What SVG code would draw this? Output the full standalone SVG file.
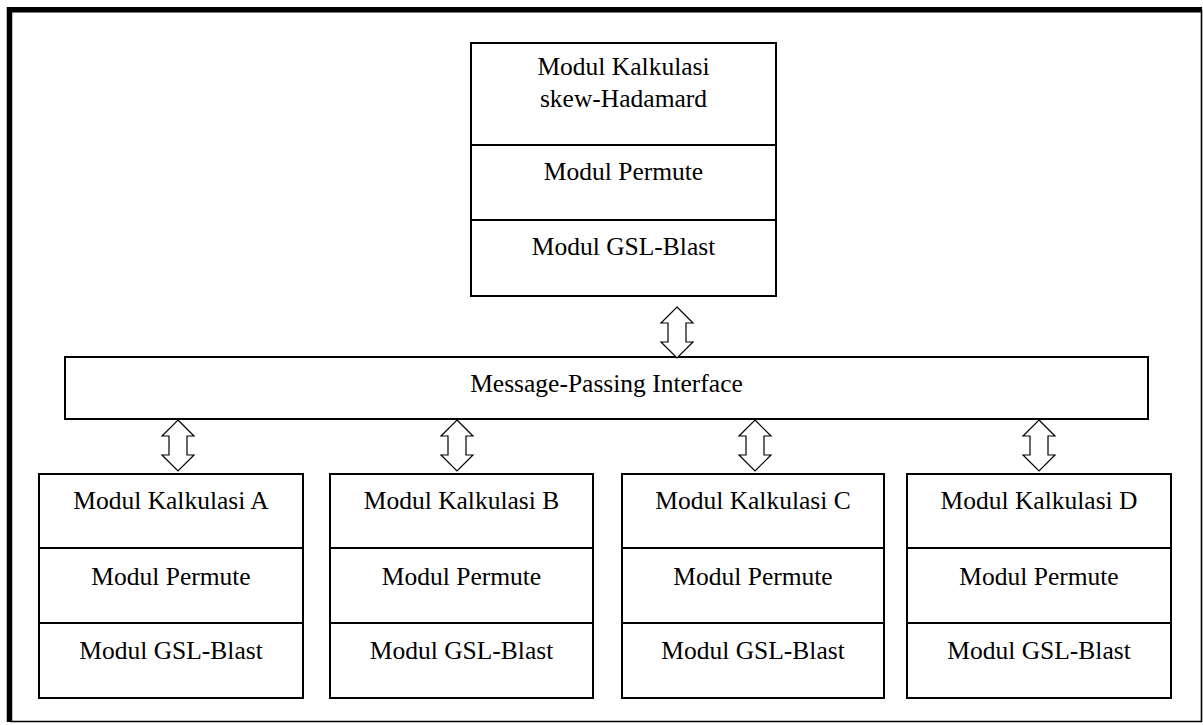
<svg xmlns="http://www.w3.org/2000/svg" width="1203" height="725" viewBox="0 0 1203 725">
  <style>
    .box { fill: #fff; stroke: #000; stroke-width: 2; }
    .div { stroke: #000; stroke-width: 2; fill: none; }
    .lbl { font-family: "Liberation Serif", "Times New Roman", serif; font-size: 25.5px; fill: #000; text-anchor: middle; }
    .arrow { fill: #fff; stroke: #000; stroke-width: 1.2; stroke-linejoin: miter; }
  </style>
  <defs>
    <!-- hollow double-headed arrow, 32 wide, 51 tall, tip at origin -->
    <path id="dblArrow" d="M0,0 L16,16 L9,16 L9,35 L16,35 L0,51 L-16,35 L-9,35 L-9,16 L-16,16 Z"/>
  </defs>

  <!-- page frame: heavy top/left edges, thin right/bottom edges -->
  <g id="frame">
    <rect x="0" y="0" width="1203" height="725" fill="#fff"/>
    <path d="M10,10 H1201.5 V721.5 H10" fill="none" stroke="#000" stroke-width="1.6"/>
    <path d="M9.5,722 V9.8 H1202" fill="none" stroke="#000" stroke-width="5.5"/>
  </g>

  <!-- master node -->
  <g id="master">
    <rect class="box" x="471" y="43" width="305" height="253"/>
    <line class="div" x1="471" y1="145" x2="776" y2="145"/>
    <line class="div" x1="471" y1="220" x2="776" y2="220" stroke-width="3"/>
    <text class="lbl" x="623.5" y="75">Modul Kalkulasi</text>
    <text class="lbl" x="623.5" y="107">skew-Hadamard</text>
    <text class="lbl" x="623.5" y="180">Modul Permute</text>
    <text class="lbl" x="623.5" y="255">Modul GSL-Blast</text>
  </g>

  <!-- message-passing layer -->
  <g id="mpi">
    <rect class="box" x="65" y="357" width="1083" height="62"/>
    <text class="lbl" x="606.5" y="392">Message-Passing Interface</text>
  </g>

  <!-- worker nodes -->
  <g id="workerA">
    <rect class="box" x="39" y="474" width="264" height="224"/>
    <line class="div" x1="39" y1="548" x2="303" y2="548"/>
    <line class="div" x1="39" y1="623" x2="303" y2="623"/>
    <text class="lbl" x="171" y="509">Modul Kalkulasi A</text>
    <text class="lbl" x="171" y="585">Modul Permute</text>
    <text class="lbl" x="171" y="659">Modul GSL-Blast</text>
  </g>
  <g id="workerB">
    <rect class="box" x="330" y="474" width="263" height="224"/>
    <line class="div" x1="330" y1="548" x2="593" y2="548"/>
    <line class="div" x1="330" y1="623" x2="593" y2="623"/>
    <text class="lbl" x="461.5" y="509">Modul Kalkulasi B</text>
    <text class="lbl" x="461.5" y="585">Modul Permute</text>
    <text class="lbl" x="461.5" y="659">Modul GSL-Blast</text>
  </g>
  <g id="workerC">
    <rect class="box" x="622" y="474" width="262" height="224"/>
    <line class="div" x1="622" y1="548" x2="884" y2="548"/>
    <line class="div" x1="622" y1="623" x2="884" y2="623"/>
    <text class="lbl" x="753" y="509">Modul Kalkulasi C</text>
    <text class="lbl" x="753" y="585">Modul Permute</text>
    <text class="lbl" x="753" y="659">Modul GSL-Blast</text>
  </g>
  <g id="workerD">
    <rect class="box" x="907" y="474" width="264" height="224"/>
    <line class="div" x1="907" y1="548" x2="1171" y2="548"/>
    <line class="div" x1="907" y1="623" x2="1171" y2="623"/>
    <text class="lbl" x="1039" y="509">Modul Kalkulasi D</text>
    <text class="lbl" x="1039" y="585">Modul Permute</text>
    <text class="lbl" x="1039" y="659">Modul GSL-Blast</text>
  </g>

  <!-- bidirectional links -->
  <g id="connectors">
    <use href="#dblArrow" class="arrow" x="677" y="307"/>
    <use href="#dblArrow" class="arrow" x="178" y="420"/>
    <use href="#dblArrow" class="arrow" x="457" y="420"/>
    <use href="#dblArrow" class="arrow" x="755" y="420"/>
    <use href="#dblArrow" class="arrow" x="1039" y="420"/>
  </g>
</svg>
